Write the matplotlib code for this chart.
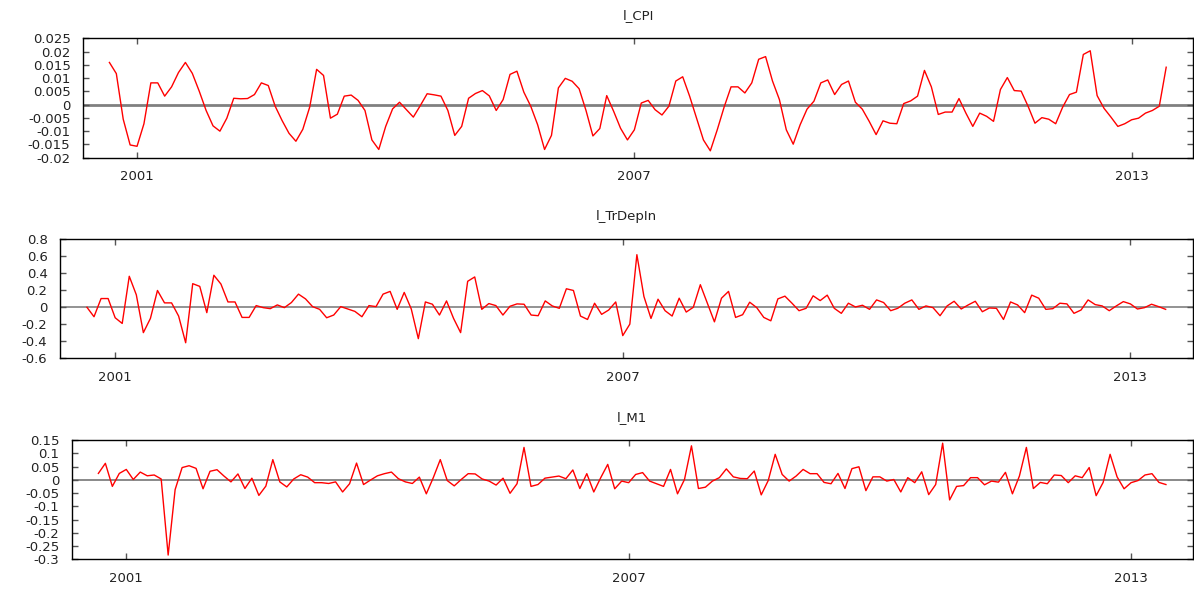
import numpy as np
import matplotlib
matplotlib.use("Agg")
from matplotlib import pyplot as plt
from matplotlib.ticker import FuncFormatter

# monthly series, Sep 2000 .. Jun 2013
start_year = 2000 + 8 / 12.0

l_CPI = [
    0.0159, 0.0117, -0.0055, -0.0152, -0.0157, -0.0072, 0.0082, 0.0082, 0.0032, 0.0067,
    0.0121, 0.0159, 0.0118, 0.0051, -0.0022, -0.0080, -0.0100, -0.0051, 0.0024, 0.0022,
    0.0023, 0.0038, 0.0082, 0.0072, -0.0006, -0.0060, -0.0108, -0.0138, -0.0093, -0.0009,
    0.0133, 0.0110, -0.0051, -0.0036, 0.0032, 0.0036, 0.0016, -0.0022, -0.0133, -0.0169,
    -0.0082, -0.0016, 0.0009, -0.0019, -0.0047, -0.0004, 0.0041, 0.0037, 0.0032, -0.0022,
    -0.0116, -0.0082, 0.0024, 0.0042, 0.0053, 0.0033, -0.0022, 0.0019, 0.0114, 0.0126,
    0.0047, -0.0006, -0.0076, -0.0169, -0.0116, 0.0063, 0.0099, 0.0088, 0.0060, -0.0022,
    -0.0118, -0.0090, 0.0034, -0.0025, -0.0089, -0.0133, -0.0095, 0.0006, 0.0016, -0.0019,
    -0.0039, -0.0006, 0.0089, 0.0105, 0.0032, -0.0051, -0.0133, -0.0174, -0.0095, -0.0009,
    0.0067, 0.0067, 0.0044, 0.0082, 0.0171, 0.0181, 0.0089, 0.0019, -0.0095, -0.0149,
    -0.0076, -0.0017, 0.0013, 0.0082, 0.0093, 0.0038, 0.0076, 0.0089, 0.0009, -0.0017,
    -0.0063, -0.0113, -0.0061, -0.0070, -0.0072, 0.0004, 0.0014, 0.0032, 0.0129, 0.0067,
    -0.0037, -0.0028, -0.0028, 0.0023, -0.0032, -0.0082, -0.0032, -0.0044, -0.0063, 0.0057,
    0.0102, 0.0053, 0.0051, -0.0006, -0.0070, -0.0049, -0.0055, -0.0072, -0.0010, 0.0038,
    0.0047, 0.0189, 0.0203, 0.0034, -0.0014, -0.0047, -0.0082, -0.0072, -0.0057, -0.0051,
    -0.0032, -0.0022, -0.0006, 0.0141,
]

l_TrDepIn = [
    0.0, -0.111, 0.103, 0.103, -0.123, -0.19, 0.365, 0.147, -0.298, -0.131,
    0.198, 0.052, 0.052, -0.103, -0.417, 0.278, 0.246, -0.063, 0.377, 0.274,
    0.063, 0.063, -0.119, -0.119, 0.020, -0.004, -0.016, 0.028, -0.004, 0.056,
    0.155, 0.099, 0.008, -0.024, -0.123, -0.091, 0.008, -0.020, -0.048, -0.111,
    0.020, 0.008, 0.155, 0.187, -0.024, 0.175, -0.020, -0.369, 0.063, 0.036,
    -0.091, 0.075, -0.131, -0.298, 0.306, 0.357, -0.024, 0.044, 0.020, -0.091,
    0.012, 0.040, 0.036, -0.091, -0.099, 0.075, 0.016, -0.012, 0.218, 0.198,
    -0.103, -0.143, 0.048, -0.083, -0.032, 0.063, -0.333, -0.198, 0.619, 0.127,
    -0.131, 0.095, -0.040, -0.103, 0.107, -0.056, 0.0, 0.266, 0.048, -0.171,
    0.107, 0.187, -0.119, -0.087, 0.060, -0.004, -0.119, -0.159, 0.099, 0.131,
    0.048, -0.040, -0.012, 0.135, 0.079, 0.143, -0.012, -0.071, 0.048, 0.004,
    0.024, -0.024, 0.087, 0.056, -0.040, -0.012, 0.048, 0.087, -0.024, 0.016,
    -0.004, -0.099, 0.016, 0.071, -0.020, 0.028, 0.071, -0.052, -0.008, -0.012,
    -0.143, 0.063, 0.028, -0.063, 0.143, 0.107, -0.024, -0.016, 0.048, 0.040,
    -0.071, -0.032, 0.087, 0.032, 0.016, -0.040, 0.016, 0.067, 0.040, -0.020,
    -0.004, 0.036, 0.008, -0.024,
]

l_M1 = [
    0.024, 0.062, -0.025, 0.024, 0.039, 0.001, 0.029, 0.015, 0.018, 0.003,
    -0.284, -0.037, 0.046, 0.053, 0.043, -0.034, 0.032, 0.038, 0.014, -0.008,
    0.022, -0.033, 0.006, -0.059, -0.024, 0.076, -0.008, -0.027, 0.003, 0.019,
    0.010, -0.011, -0.011, -0.014, -0.008, -0.046, -0.015, 0.063, -0.018, -0.001,
    0.015, 0.023, 0.029, 0.004, -0.008, -0.014, 0.010, -0.053, 0.008, 0.076,
    -0.003, -0.023, 0.001, 0.023, 0.022, 0.003, -0.005, -0.020, 0.006, -0.051,
    -0.015, 0.122, -0.025, -0.018, 0.006, 0.010, 0.014, 0.004, 0.037, -0.033,
    0.023, -0.046, 0.008, 0.058, -0.034, -0.005, -0.011, 0.020, 0.027, -0.005,
    -0.015, -0.025, 0.039, -0.053, 0.001, 0.128, -0.033, -0.028, -0.005, 0.008,
    0.041, 0.011, 0.005, 0.004, 0.033, -0.057, -0.003, 0.096, 0.020, -0.005,
    0.014, 0.039, 0.023, 0.023, -0.010, -0.015, 0.024, -0.033, 0.042, 0.049,
    -0.041, 0.011, 0.011, -0.005, 0.001, -0.046, 0.008, -0.011, 0.030, -0.056,
    -0.018, 0.138, -0.076, -0.025, -0.022, 0.008, 0.008, -0.019, -0.005, -0.009,
    0.028, -0.053, 0.014, 0.122, -0.033, -0.010, -0.015, 0.018, 0.016, -0.011,
    0.015, 0.008, 0.046, -0.060, -0.010, 0.096, 0.011, -0.034, -0.011, -0.003,
    0.018, 0.023, -0.010, -0.018,
]

titles = ["l_CPI", "l_TrDepIn", "l_M1"]
series = [l_CPI, l_TrDepIn, l_M1]
yranges = [(-0.02, 0.025, 0.005), (-0.6, 0.8, 0.2), (-0.3, 0.15, 0.05)]
year_ticks = [2001, 2007, 2013]

plt.rcParams['font.family'] = ['DejaVu Sans']
plt.rcParams['axes.unicode_minus'] = False

W, H = 1194, 590
fig = plt.figure(figsize=(W / 100.0, H / 100.0), dpi=100)

# axes boxes in pixels: left, top, bottom
boxes = [(83, 38.3, 157.7), (60, 239.3, 358.3), (71.7, 440, 559.3)]
zero_lw = [2.0, 1.2, 1.3]
right = 1193

def fmt(v, pos):
    s = "%g" % round(v, 4)
    return "0" if s in ("-0", "0") else s

for title, y, (lo, hi, step), (l, t, b), zlw in zip(titles, series, yranges, boxes, zero_lw):
    ax = fig.add_axes([l / W, 1 - b / H, (right - l) / W, (b - t) / H])
    x = start_year + np.arange(len(y)) / 12.0
    ax.axhline(0, color="#808080", lw=zlw, zorder=1)
    ax.plot(x, y, color="#ff0000", lw=1.0, zorder=2)
    ax.set_xlim(2000.348, 2013.74)
    ax.set_ylim(lo, hi)
    ax.set_yticks(np.arange(lo, hi + step / 2, step))
    ax.yaxis.set_major_formatter(FuncFormatter(fmt))
    ax.set_xticks(year_ticks)
    ax.set_xticklabels([str(v) for v in year_ticks])
    ax.tick_params(direction="in", length=4, width=1, color="#555555",
                   top=True, right=True, labelsize=9.5, labelcolor="#222222")
    ax.tick_params(axis="x", pad=9)
    ax.tick_params(axis="y", pad=9)
    for sp in ax.spines.values():
        sp.set_linewidth(1.0)
        sp.set_color("#000000")
    ax.set_title(title, fontsize=9.5, color="#222222", pad=14)

fig.savefig("out.png", dpi=100)
